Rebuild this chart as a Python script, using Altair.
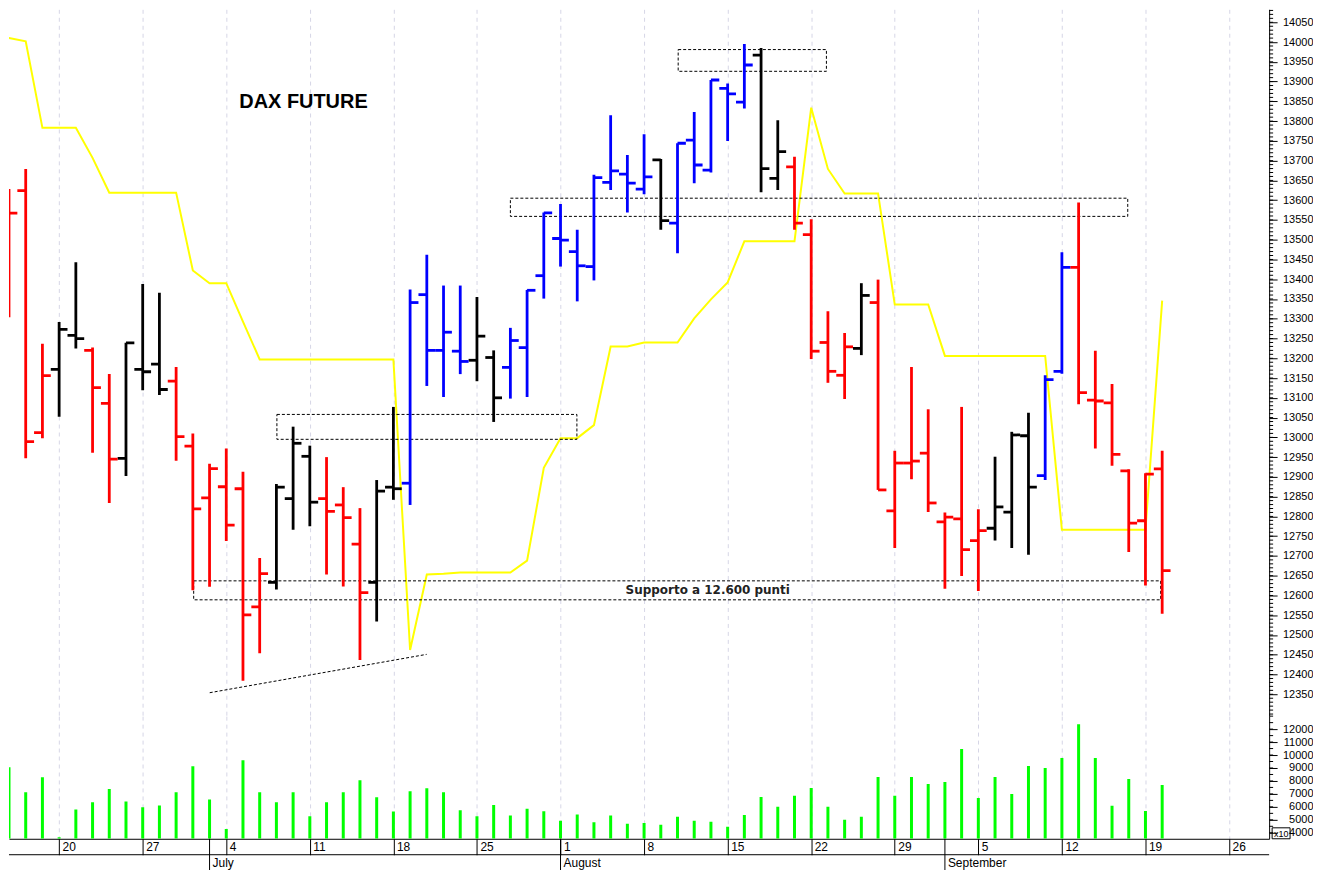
import altair as alt
import pandas as pd

# ---------------- data (trading-day index 0 = Wed 15 Jun 2022) ----------------
opens = [13364, 13624, 13012, 13172, 13258, 13220, 13086, 12947, 13172, 13185,
         13142, 12978, 12847, 12875, 12870, 12571, 12633, 12845, 12952, 12845,
         12829, 12730, 12633, 12874, 12884, 13361, 13220, 13218, 13195, 13202,
         13177, 13227, 13409, 13503, 13470, 13432, 13645, 13666, 13628, 13702,
         13542, 13752, 13676, 13883, 13848, 13967, 13655, 13684, 13513, 13240,
         13157, 13225, 13341, 12814, 12935, 12960, 12786, 12794, 12739, 12770,
         12811, 13004, 12903, 13167, 13430, 13094, 13087, 12915, 12789, 12920]
highs = [13628, 13679, 13237, 13292, 13443, 13227, 13160, 13239, 13388, 13366,
         13178, 13010, 12933, 12972, 12913, 12695, 12882, 13027, 12979, 12950,
         12874, 12821, 12892, 13077, 13374, 13462, 13384, 13384, 13355, 13220,
         13277, 13373, 13569, 13590, 13525, 13664, 13815, 13714, 13767, 13704,
         13744, 13823, 13904, 13895, 13995, 13985, 13802, 13710, 13552, 13319,
         13264, 13390, 13399, 12966, 13178, 13071, 12810, 13077, 12818, 12951,
         13014, 13062, 13157, 13468, 13594, 13219, 13135, 12919, 12909, 12966]
lows = [13304, 12947, 12998, 13052, 13225, 12961, 12834, 12902, 13119, 13107,
        12941, 12613, 12622, 12738, 12384, 12454, 12615, 12766, 12775, 12653,
        12623, 12437, 12534, 12842, 12829, 13130, 13102, 13160, 13142, 13039,
        13098, 13102, 13351, 13432, 13344, 13397, 13626, 13569, 13615, 13525,
        13466, 13643, 13670, 13750, 13832, 13620, 13626, 13525, 13198, 13138,
        13097, 13208, 12867, 12720, 12894, 12811, 12617, 12649, 12611, 12739,
        12720, 12703, 12892, 13161, 13084, 12972, 12928, 12710, 12625, 12554]
closes = [13567, 12989, 13156, 13273, 13250, 13126, 12945, 13239, 13166, 13121,
          13002, 12819, 12921, 12778, 12551, 12655, 12874, 12985, 12836, 12813,
          12797, 12607, 12864, 12870, 13341, 13220, 13266, 13192, 13256, 13100,
          13245, 13372, 13568, 13499, 13434, 13657, 13674, 13643, 13659, 13548,
          13744, 13689, 13904, 13869, 13942, 13680, 13723, 13542, 13218, 13167,
          13229, 13359, 12867, 12935, 12940, 12834, 12798, 12716, 12764, 12824,
          13006, 12874, 13146, 13430, 13113, 13092, 12957, 12783, 12907, 12663]
trend = list("RRRKK" "RRKKK" "RRRRR" "RKKKR" "RRKKB" "BBBKK" "BBBBB"
             "BBBBK" "BBBBB" "KKRRR" "RKRRR" "RRRRK" "KKBBR" "RRRRR")
volumes = [9054, 7131, 8285, 3650, 5792, 6362, 7385, 6408, 5977, 6100,
           7131, 9131, 6562, 4300, 9592, 7131, 6362, 7131, 5285, 6362,
           7131, 8054, 6746, 5638, 7208, 7438, 7131, 5746, 5285, 6154,
           5331, 5846, 5669, 4923, 5408, 4823, 5331, 4692, 4746, 4615,
           5230, 4920, 4850, 4460, 5380, 6770, 6000, 6850, 7460, 6000,
           5000, 5230, 8310, 6850, 8310, 7770, 7920, 10460, 6690, 8310,
           7000, 9150, 9000, 9770, 12380, 9770, 6080, 8150, 5690, 7690]
yellow_idx = list(range(-1, 70))
yellow = [14015, 14010, 14002, 13783, 13783, 13783, 13707, 13619, 13619, 13619,
          13619, 13619, 13422, 13390, 13390, 13293, 13197, 13197, 13197, 13197,
          13197, 13197, 13197, 13197, 13197, 12462, 12653, 12655, 12658, 12658,
          12658, 12658, 12688, 12923, 12998, 12998, 13031, 13230, 13230, 13240,
          13240, 13240, 13301, 13349, 13392, 13496, 13496, 13496, 13496, 13834,
          13679, 13617, 13617, 13617, 13336, 13336, 13336, 13206, 13206, 13206,
          13206, 13206, 13206, 13206, 12766, 12766, 12766, 12766, 12766, 12766,
          13346]

mondays = [3, 8, 13, 18, 23, 28, 33, 38, 43, 48, 53, 58, 63, 68, 73]
monday_labels = ["20", "27", "4", "11", "18", "25", "1", "8", "15", "22",
                 "29", "5", "12", "19", "26"]
month_starts = [12, 33, 56]
month_names = ["July", "August", "September"]
price_ticks = list(range(12350, 14051, 50))
price_minor = list(range(12300, 14081, 10))
vol_ticks = list(range(4000, 12001, 1000))
vol_minor = list(range(4000, 13001, 500))

# annotation boxes (day index / price)
box_x1 = [40.04, 30.0, 16.03, 11.05]
box_x2 = [48.91, 66.94, 33.98, 68.91]
box_lo = [13926, 13559, 12995, 12589]
box_hi = [13981, 13605, 13058, 12637]
trend_i = [12.01, 24.99]
trend_p = [12354, 12451]

# ---------------- layout ----------------
W, HP, HV = 1264, 709, 123
xscale = alt.Scale(domain=[0, 75.4], nice=False, zero=False)
pscale = alt.Scale(domain=[12294.7, 14082.8], nice=False, zero=False)
vscale = alt.Scale(domain=[3538, 13000], nice=False, zero=False)
GRID = "#d6d6e6"

colorenc = alt.Color("t:N", scale=alt.Scale(domain=["R", "B", "K"],
                     range=["#ff0000", "#0000ff", "#000000"]), legend=None)

bars = pd.DataFrame({"i": list(range(70)), "o": opens, "h": highs,
                     "l": lows, "c": closes, "t": trend})
bars["xo"] = bars["i"] - 0.5
bars["xc"] = bars["i"] + 0.5
vol = pd.DataFrame({"i": list(range(70)), "v": volumes})
yl = pd.DataFrame({"i": yellow_idx, "p": yellow})
boxes = pd.DataFrame({"a": box_x1, "b": box_x2, "lo": box_lo, "hi": box_hi})
tline = pd.DataFrame({"i": trend_i, "p": trend_p})

xaxis_p = alt.Axis(values=mondays, grid=True, gridColor=GRID, gridDash=[4, 4],
                   labels=False, ticks=False, domain=False, title=None)
yaxis_p = alt.Axis(orient="right", values=price_ticks, format="d", tickSize=8,
                   tickColor="black", domainColor="black", labelFont="Liberation Sans",
                   labelFontSize=11, labelColor="black", labelAlign="right",
                   labelPadding=36, labelOverlap=False, title=None, grid=False)


def PX(f):
    return alt.X(f, scale=xscale, axis=xaxis_p, title=None)


def PY(f):
    return alt.Y(f, scale=pscale, axis=yaxis_p, title=None)


base = alt.Chart(bars)
hl = base.mark_rule(strokeWidth=2.8, clip=True).encode(
    x=PX("i:Q"), y=PY("l:Q"), y2="h:Q", color=colorenc)
op = base.mark_rule(strokeWidth=2.8, clip=True).encode(
    x=PX("xo:Q"), x2="i:Q", y=PY("o:Q"), color=colorenc)
cl = base.mark_rule(strokeWidth=2.8, clip=True).encode(
    x=PX("i:Q"), x2="xc:Q", y=PY("c:Q"), color=colorenc)

yline = alt.Chart(yl).mark_line(color="#ffff00", strokeWidth=2, clip=True).encode(
    x=PX("i:Q"), y=PY("p:Q"))

rects = alt.Chart(boxes).mark_rect(fillOpacity=0, stroke="black", strokeWidth=1,
                                   strokeDash=[3, 2]).encode(
    x=PX("a:Q"), x2="b:Q", y=PY("lo:Q"), y2="hi:Q")
tl = alt.Chart(tline).mark_line(color="black", strokeWidth=1, strokeDash=[3, 2]).encode(
    x=PX("i:Q"), y=PY("p:Q"))

minor_p = alt.Chart(pd.DataFrame({"p": price_minor})).mark_rule(color="black", strokeWidth=1).encode(
    y=PY("p:Q"), x=alt.value(W), x2=alt.value(W + 4))

title = alt.Chart(pd.DataFrame({"i": [13.78], "p": [13848], "s": ["DAX FUTURE"]})).mark_text(
    align="left", baseline="middle", font="Liberation Sans", fontSize=20,
    fontWeight="bold", color="black").encode(x=PX("i:Q"), y=PY("p:Q"), text="s:N")
support = alt.Chart(pd.DataFrame({"i": [41.81], "p": [12614], "s": ["Supporto a 12.600 punti"]})).mark_text(
    align="center", baseline="middle", font="DejaVu Sans", fontSize=12,
    fontWeight="bold", color="#222222").encode(x=PX("i:Q"), y=PY("p:Q"), text="s:N")

price = alt.layer(yline, rects, tl, hl, op, cl, minor_p, title, support).properties(width=W, height=HP)

# ---------------- volume panel ----------------
lab_expr = "[" + ",".join("'%s'" % s for s in monday_labels) + "][indexof([" + \
    ",".join(str(m) for m in mondays) + "], datum.value)]"
xaxis_v = alt.Axis(values=mondays, grid=True, gridColor=GRID, gridDash=[4, 4],
                   labelExpr=lab_expr, labelAlign="left", labelBaseline="top",
                   labelOffset=3, labelPadding=-13, tickSize=16, tickColor="black",
                   domainColor="black", labelFont="Liberation Sans", labelFontSize=12,
                   labelColor="black", title=None, labelOverlap=False, labelFlush=False)
yaxis_v = alt.Axis(orient="right", values=vol_ticks, format="d", tickSize=8,
                   tickColor="black", domainColor="black", labelFont="Liberation Sans",
                   labelFontSize=11, labelColor="black", labelAlign="right",
                   labelPadding=36, labelOverlap=False, title=None, grid=False)


def VX(f):
    return alt.X(f, scale=xscale, axis=xaxis_v, title=None)


def VY(f):
    return alt.Y(f, scale=vscale, axis=yaxis_v, title=None)


vbars = alt.Chart(vol).mark_rule(color="#00ff00", strokeWidth=3, clip=True).encode(
    x=VX("i:Q"), y=VY("v:Q"), y2=alt.value(HV))
minor_v = alt.Chart(pd.DataFrame({"v": vol_minor})).mark_rule(color="black", strokeWidth=1).encode(
    y=VY("v:Q"), x=alt.value(W), x2=alt.value(W + 4))
hline2 = alt.Chart(pd.DataFrame({"k": [0]})).mark_rule(color="black", strokeWidth=1).encode(
    x=alt.value(0), x2=alt.value(W), y=alt.value(HV + 16))
months = pd.DataFrame({"i": month_starts, "name": month_names})
msep = alt.Chart(months).mark_rule(color="black", strokeWidth=1).encode(
    x=VX("i:Q"), y=alt.value(HV), y2=alt.value(HV + 32))
mtxt = alt.Chart(months).mark_text(align="left", baseline="middle", dx=3, font="Liberation Sans",
                                   fontSize=12, color="black").encode(
    x=VX("i:Q"), y=alt.value(HV + 24), text="name:N")
x10box = alt.Chart(pd.DataFrame({"k": [0]})).mark_rect(fillOpacity=0, stroke="black", strokeWidth=1).encode(
    x=alt.value(W + 3), x2=alt.value(W + 21), y=alt.value(HV - 11), y2=alt.value(HV))
x10txt = alt.Chart(pd.DataFrame({"s": ["x10"]})).mark_text(align="left", baseline="middle",
                                                            font="Liberation Sans", fontSize=9,
                                                            color="black").encode(
    x=alt.value(W + 5), y=alt.value(HV - 5), text="s:N")

volume = alt.layer(vbars, minor_v, hline2, msep, mtxt, x10box, x10txt).properties(width=W, height=HV)

chart = alt.vconcat(price, volume, spacing=0, bounds="flush").properties(
    padding=0, background="white").configure_view(strokeWidth=0)

chart.save("out.html", embed_options={"renderer": "svg", "actions": False})
